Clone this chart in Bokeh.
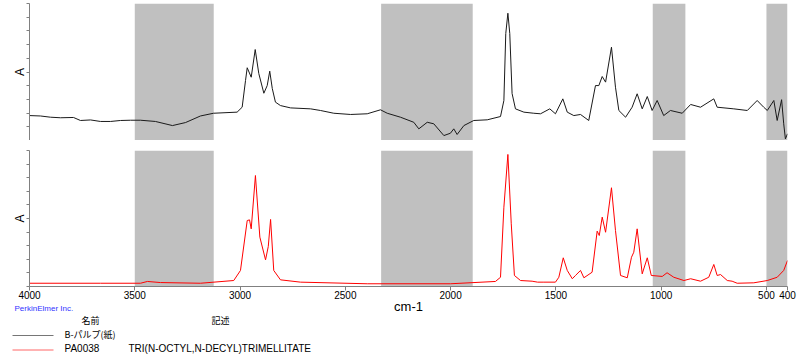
from bokeh.plotting import figure
from bokeh.layouts import column
from bokeh.models import Range1d, FixedTicker, BoxAnnotation
from bokeh.core.properties import value
from bokeh.embed import file_html
from bokeh.resources import INLINE

# ---------------- data ----------------
x_ticks = [4000, 3500, 3000, 2500, 2000, 1500, 1000, 500, 400]
y_ticks = list(range(0, 11))

band_start = [3500, 2330, 1040, 500]
band_end = [3125, 1895, 885, 400]

top_name = "B-パルプ(紙)"
top_wn = [4000, 3948, 3900, 3853, 3791, 3758, 3710, 3663, 3615, 3568, 3520, 3473, 3402, 3321, 3259,
          3188, 3126, 3014, 2990, 2974, 2966, 2947, 2928, 2911, 2887, 2871, 2859, 2847, 2832, 2808,
          2760, 2665, 2618, 2555, 2475, 2396, 2333, 2301, 2238, 2175, 2151, 2111, 2080, 2032, 2001,
          1985, 1969, 1937, 1890, 1826, 1763, 1747, 1738, 1728, 1719, 1708, 1692, 1652, 1605, 1573,
          1529, 1502, 1467, 1446, 1415, 1383, 1344, 1312, 1296, 1280, 1264, 1236, 1217, 1201, 1169,
          1138, 1114, 1090, 1066, 1043, 1019, 988, 956, 900, 860, 813, 750, 734, 655, 591,
          544, 513, 496, 465, 449, 428, 418, 410, 400]
top_abs = [1.82, 1.79, 1.70, 1.66, 1.68, 1.46, 1.50, 1.39, 1.39, 1.46, 1.48, 1.48, 1.39, 1.09, 1.31,
           1.79, 1.99, 2.07, 2.43, 4.38, 5.31, 4.62, 6.64, 4.89, 3.45, 4.01, 5.06, 3.80, 2.80, 2.55,
           2.38, 2.31, 2.19, 1.99, 1.90, 1.95, 2.24, 1.99, 1.70, 1.33, 0.85, 1.33, 1.22, 0.36, 0.53,
           0.85, 0.44, 1.09, 1.46, 1.51, 1.75, 2.92, 7.81, 9.29, 7.81, 3.43, 2.31, 2.07, 1.99, 1.95,
           2.31, 1.95, 3.04, 2.07, 1.82, 1.90, 1.46, 4.01, 4.01, 4.67, 4.26, 6.81, 3.89, 2.19, 1.70,
           2.43, 3.41, 2.31, 3.21, 2.19, 2.92, 1.82, 2.19, 1.99, 2.63, 2.43, 3.04, 2.43, 2.31, 2.19,
           2.92, 2.43, 2.19, 2.92, 1.46, 2.98, 1.22, 0.12, 0.49]

bot_name = "PA0038"
bot_desc = "TRI(N-OCTYL,N-DECYL)TRIMELLITATE"
bot_wn = [4000, 3663, 3473, 3440, 3378, 3188, 3030, 2998, 2966, 2955, 2947, 2927, 2906, 2879, 2866,
          2855, 2840, 2808, 2713, 2396, 2001, 1787, 1763, 1747, 1728, 1712, 1697, 1668, 1613, 1587,
          1557, 1502, 1486, 1465, 1446, 1422, 1407, 1383, 1367, 1328, 1304, 1294, 1280, 1264, 1236,
          1217, 1193, 1161, 1141, 1130, 1114, 1090, 1066, 1047, 995, 972, 940, 892, 860, 813,
          774, 750, 734, 718, 686, 663, 639, 560, 496, 449, 418, 400]
bot_abs = [0.24, 0.24, 0.24, 0.37, 0.29, 0.24, 0.44, 1.18, 4.85, 4.90, 4.24, 8.16, 3.63, 1.96, 2.94,
           4.93, 1.18, 0.49, 0.32, 0.20, 0.20, 0.37, 0.68, 5.83, 9.71, 4.61, 0.81, 0.44, 0.39, 0.32,
           0.32, 0.32, 0.68, 2.11, 1.18, 0.57, 0.81, 1.18, 0.64, 1.05, 4.07, 3.75, 5.10, 3.99, 7.26,
           4.12, 0.81, 0.64, 2.15, 2.52, 4.24, 0.93, 2.11, 0.81, 0.74, 1.01, 0.68, 0.44, 0.57, 0.39,
           0.68, 1.62, 0.81, 0.88, 0.44, 0.39, 0.24, 0.27, 0.44, 0.68, 1.18, 1.91]

# ---------------- layout constants (pixels) ----------------
W = 800
FRAME_L, FRAME_R = 29, 787
FOOT_TOP, PAGE_H = 300, 357
FOOT_H = PAGE_H - FOOT_TOP

FONT = "Liberation Sans"
CJK = "Noto Sans CJK JP"
AXIS_GREY = "#808080"
BAND = "#c0c0c0"
TOP_COLOR = "#1a1a1a"
BOT_COLOR = "#ff0000"


def style_yaxis(p):
    ax = p.yaxis[0]
    ax.ticker = FixedTicker(ticks=y_ticks)
    ax.axis_line_color = AXIS_GREY
    ax.major_tick_line_color = AXIS_GREY
    ax.major_tick_out = 3
    ax.major_tick_in = 0
    ax.minor_tick_out = 0
    ax.minor_tick_in = 0
    ax.major_label_overrides = {t: "" for t in y_ticks}
    ax.major_label_standoff = 0
    ax.axis_label = "A"
    ax.axis_label_text_font = FONT
    ax.axis_label_text_font_size = "12px"
    ax.axis_label_text_font_style = "normal"
    ax.axis_label_text_color = "black"
    ax.axis_label_standoff = 0


def add_bands(p):
    for s, e in zip(band_start, band_end):
        p.add_layout(BoxAnnotation(left=s, right=e, fill_color=BAND, fill_alpha=1.0,
                                   line_color=None, level="underlay"))


x_range = Range1d(4000, 400)

top = figure(width=W, height=140, x_range=x_range, y_range=Range1d(0, 10),
             output_backend="svg", toolbar_location=None, x_axis_location=None,
             min_border_left=FRAME_L, min_border_right=W - FRAME_R,
             min_border_top=3, min_border_bottom=0)
top.outline_line_color = None
top.grid.visible = False
style_yaxis(top)
add_bands(top)
top.line(top_wn, top_abs, line_color=TOP_COLOR, line_width=1)

bot = figure(width=W, height=217, x_range=x_range, y_range=Range1d(0, 10),
             output_backend="svg", toolbar_location=None,
             min_border_left=FRAME_L, min_border_right=W - FRAME_R,
             min_border_top=10, min_border_bottom=71)
bot.outline_line_color = None
bot.grid.visible = False
style_yaxis(bot)
add_bands(bot)
bot.line(bot_wn, bot_abs, line_color=BOT_COLOR, line_width=1)

xa = bot.xaxis[0]
xa.ticker = FixedTicker(ticks=x_ticks)
xa.axis_line_color = AXIS_GREY
xa.major_tick_line_color = AXIS_GREY
xa.major_tick_out = 4
xa.major_tick_in = 0
xa.minor_tick_out = 0
xa.minor_tick_in = 0
xa.major_label_text_font = FONT
xa.major_label_text_font_size = "10px"
xa.major_label_text_color = "black"
xa.major_label_standoff = 0
xa.axis_label = "cm-1"
xa.axis_label_text_font = FONT
xa.axis_label_text_font_size = "13px"
xa.axis_label_text_font_style = "normal"
xa.axis_label_text_color = "black"
xa.axis_label_standoff = -3

main = column(top, bot)

# ---------------- footer (legend table): separate root, transparent overlay in page-pixel coordinates ----------------
foot = figure(width=W, height=FOOT_H, x_range=Range1d(0, W), y_range=Range1d(PAGE_H, FOOT_TOP),
              output_backend="svg", toolbar_location=None,
              x_axis_location=None, y_axis_location=None,
              min_border_left=0, min_border_right=0, min_border_top=0, min_border_bottom=0,
              margin=(-FOOT_H, 0, 0, 0))
foot.outline_line_color = None
foot.grid.visible = False
foot.background_fill_color = None
foot.border_fill_color = None


def ftext(px, py, text, size, font=FONT, color="black"):
    foot.text(x=[px], y=[py], text=[text], text_font=value(font), text_font_size=value(size),
              text_color=color, text_baseline="middle", text_align="left")


ftext(14, 308, "PerkinElmer Inc.", "8px", color="#3333ff")
ftext(81, 320, "名前", "9px", font=CJK)
ftext(211, 320, "記述", "9px", font=CJK)
ftext(64, 334, top_name, "9px", font=CJK)
ftext(64, 348, bot_name, "10px")
ftext(128, 348, bot_desc, "10px")

# legend sample lines
foot.segment(x0=[12, 12], y0=[335, 349.5], x1=[53, 53], y1=[335, 349.5],
             line_color=[TOP_COLOR, BOT_COLOR], line_alpha=0.6, line_width=1)

open("out.html", "w").write(file_html([main, foot], INLINE))
